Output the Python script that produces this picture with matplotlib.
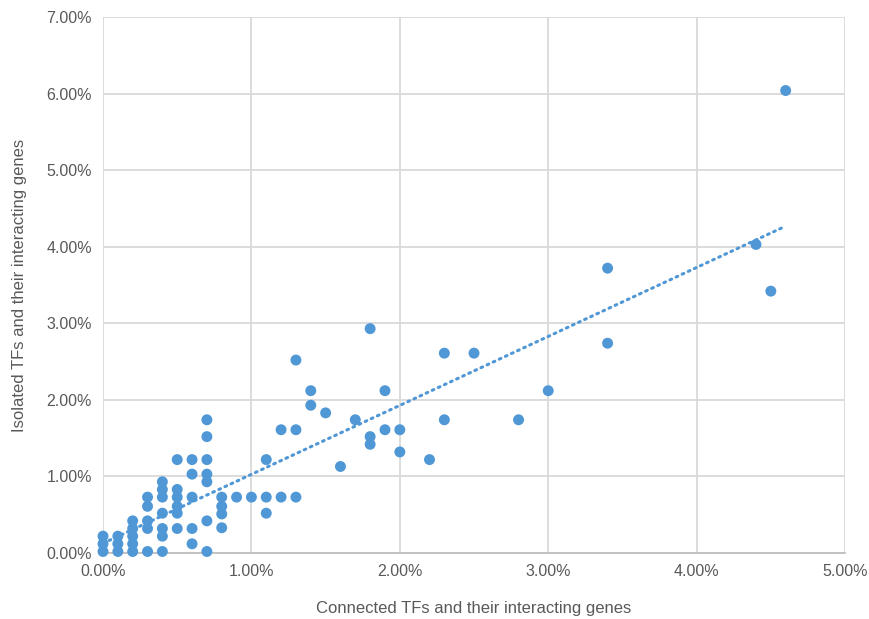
import numpy as np
import matplotlib.pyplot as plt
from matplotlib.ticker import FuncFormatter

plt.rcParams['font.family'] = ['Liberation Sans', 'DejaVu Sans']

# connected TFs (%) -> isolated TFs (%)
connected = [0.0, 0.0, 0.0,
             0.1, 0.1, 0.1,
             0.2, 0.2, 0.2, 0.2, 0.2,
             0.3, 0.3, 0.3, 0.3, 0.3,
             0.4, 0.4, 0.4, 0.4, 0.4, 0.4, 0.4,
             0.5, 0.5, 0.5, 0.5, 0.5, 0.5,
             0.6, 0.6, 0.6, 0.6, 0.6,
             0.7, 0.7, 0.7, 0.7, 0.7, 0.7, 0.7,
             0.8, 0.8, 0.8, 0.8,
             0.9, 1.0,
             1.1, 1.1, 1.1,
             1.2, 1.2,
             1.3, 1.3, 1.3,
             1.4, 1.4, 1.5, 1.6, 1.7,
             1.8, 1.8, 1.8,
             1.9, 1.9,
             2.0, 2.0, 2.2,
             2.3, 2.3, 2.5, 2.8, 3.0,
             3.4, 3.4, 4.4, 4.5, 4.6]
isolated = [0.22, 0.12, 0.02,
            0.22, 0.12, 0.02,
            0.42, 0.32, 0.22, 0.12, 0.02,
            0.73, 0.61, 0.42, 0.32, 0.02,
            0.93, 0.83, 0.73, 0.52, 0.32, 0.22, 0.02,
            1.22, 0.83, 0.73, 0.61, 0.52, 0.32,
            1.22, 1.03, 0.73, 0.32, 0.12,
            1.74, 1.52, 1.22, 1.03, 0.93, 0.42, 0.02,
            0.73, 0.61, 0.51, 0.33,
            0.73, 0.73,
            1.22, 0.73, 0.52,
            1.61, 0.73,
            2.52, 1.61, 0.73,
            2.12, 1.93, 1.83, 1.13, 1.74,
            2.93, 1.52, 1.42,
            2.12, 1.61,
            1.61, 1.32, 1.22,
            2.61, 1.74, 2.61, 1.74, 2.12,
            3.72, 2.74, 4.03, 3.42, 6.04]

x_ticks = [0, 1, 2, 3, 4, 5]
y_ticks = [0, 1, 2, 3, 4, 5, 6, 7]

blue = '#5097D6'
grey = '#595959'

fig = plt.figure(figsize=(8.7, 6.19), dpi=100)
ax = fig.add_axes([0.1184, 0.1066, 0.8529, 0.8659])

x = np.array(connected)
y = np.array(isolated)
ax.scatter(x, y, s=62, color=blue, edgecolors='none', zorder=3, clip_on=False)

# linear trendline over the data range
k, b = np.polyfit(x, y, 1)
xs = np.linspace(x.min(), x.max(), 50)
ax.plot(xs, k * xs + b, color=blue, lw=2.2, ls=(0, (0.6, 1.6)),
        dash_capstyle='round', zorder=2)

ax.set_xlim(0, 5)
ax.set_ylim(0, 7)
ax.set_xticks(x_ticks)
ax.set_yticks(y_ticks)
pct = FuncFormatter(lambda v, p: '%.2f%%' % v)
ax.xaxis.set_major_formatter(pct)
ax.yaxis.set_major_formatter(pct)
ax.tick_params(length=0, labelsize=11.5, labelcolor=grey, pad=8)

ax.grid(True, color='#D9D9D9', lw=1.3, zorder=0)
ax.set_axisbelow(True)
for side in ['top', 'right', 'left']:
    ax.spines[side].set_visible(False)
ax.spines['bottom'].set_color('#BFBFBF')
ax.spines['bottom'].set_linewidth(1.3)

ax.set_xlabel('Connected TFs and their interacting genes', fontsize=12,
              color=grey, labelpad=16)
ax.set_ylabel('Isolated TFs and their interacting genes', fontsize=12,
              color=grey, labelpad=14)

fig.savefig('out.png', dpi=100)
